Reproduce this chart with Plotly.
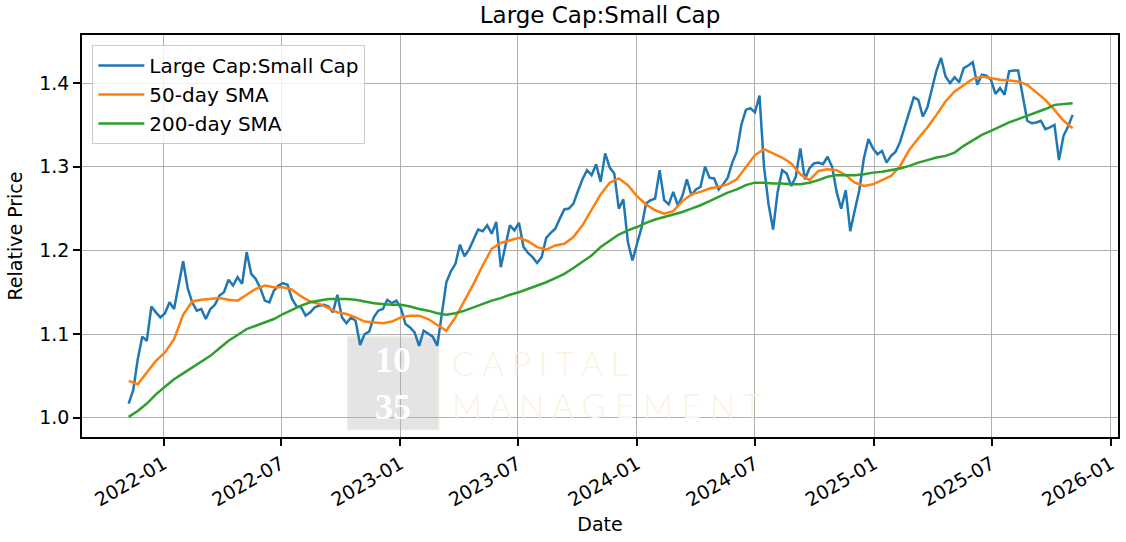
import pandas as pd
import plotly.graph_objects as go

# weekly closes of the ratio
ratio_start = "2021-11-08"
ratio = [
    1.017, 1.033, 1.070, 1.097, 1.092, 1.133, 1.126, 1.120, 1.125, 1.138,
    1.130, 1.158, 1.187, 1.155, 1.138, 1.128, 1.130, 1.118, 1.130, 1.135,
    1.146, 1.150, 1.165, 1.158, 1.168, 1.160, 1.198, 1.172, 1.166, 1.155,
    1.140, 1.138, 1.152, 1.158, 1.161, 1.159, 1.142, 1.133, 1.132, 1.122,
    1.126, 1.132, 1.134, 1.135, 1.133, 1.126, 1.147, 1.120, 1.113, 1.120,
    1.116, 1.087, 1.100, 1.103, 1.120, 1.128, 1.130, 1.141, 1.137, 1.140,
    1.131, 1.112, 1.108, 1.102, 1.086, 1.104, 1.100, 1.097, 1.086, 1.125,
    1.162, 1.175, 1.184, 1.207, 1.193, 1.201, 1.212, 1.225, 1.223, 1.230,
    1.220, 1.234, 1.180, 1.207, 1.230, 1.224, 1.233, 1.204, 1.197, 1.192,
    1.185, 1.192, 1.215, 1.221, 1.226, 1.238, 1.249, 1.250, 1.256, 1.271,
    1.285, 1.296, 1.290, 1.303, 1.282, 1.316, 1.299, 1.292, 1.250, 1.261,
    1.210, 1.188, 1.208, 1.227, 1.256, 1.260, 1.262, 1.296, 1.260, 1.255,
    1.270, 1.254, 1.265, 1.285, 1.266, 1.273, 1.276, 1.300, 1.287, 1.286,
    1.273, 1.279, 1.287, 1.305, 1.318, 1.350, 1.368, 1.370, 1.365, 1.385,
    1.300, 1.255, 1.225, 1.270, 1.296, 1.292, 1.277, 1.288, 1.322, 1.285,
    1.298, 1.304, 1.305, 1.303, 1.312, 1.300, 1.270, 1.250, 1.272, 1.223,
    1.248, 1.272, 1.310, 1.333, 1.322, 1.315, 1.319, 1.305, 1.313, 1.318,
    1.330, 1.348, 1.368, 1.383, 1.380, 1.360, 1.371, 1.395, 1.415, 1.430,
    1.408, 1.400, 1.407, 1.401, 1.418, 1.421, 1.425, 1.398, 1.410, 1.409,
    1.404, 1.387, 1.394, 1.386, 1.414, 1.415, 1.415, 1.385, 1.355, 1.352,
    1.353, 1.355, 1.345, 1.347, 1.350, 1.308, 1.337, 1.348, 1.362,
]

# moving averages, every two weeks
sma_start = "2021-11-08"
sma50 = [
    1.044, 1.040, 1.054, 1.068, 1.078, 1.094, 1.123, 1.139, 1.141, 1.142,
    1.143, 1.141, 1.140, 1.147, 1.154, 1.158, 1.156, 1.156, 1.153, 1.145,
    1.139, 1.136, 1.131, 1.126, 1.124, 1.120, 1.115, 1.114, 1.113, 1.115,
    1.120, 1.122, 1.122, 1.118, 1.111, 1.104, 1.120, 1.140, 1.160, 1.182,
    1.202, 1.209, 1.212, 1.215, 1.211, 1.204, 1.201, 1.206, 1.208, 1.216,
    1.230, 1.248, 1.267, 1.281, 1.286, 1.278, 1.265, 1.255, 1.248, 1.244,
    1.247, 1.259, 1.267, 1.270, 1.274, 1.276, 1.279, 1.285, 1.299, 1.314,
    1.321, 1.316, 1.311, 1.304, 1.291, 1.284, 1.295, 1.297, 1.296, 1.290,
    1.281, 1.277, 1.279, 1.284, 1.289, 1.301, 1.320, 1.334, 1.347, 1.362,
    1.378, 1.390, 1.398, 1.405, 1.408, 1.406, 1.404, 1.403, 1.402, 1.398,
    1.389, 1.380, 1.368, 1.355, 1.346,
]
sma200 = [
    1.001, 1.008, 1.017, 1.028, 1.037, 1.046, 1.053, 1.060, 1.067, 1.074,
    1.083, 1.092, 1.099, 1.106, 1.110, 1.114, 1.118, 1.124, 1.129, 1.134,
    1.138, 1.140, 1.142, 1.142, 1.142, 1.141, 1.139, 1.137, 1.136, 1.135,
    1.135, 1.133, 1.130, 1.128, 1.125, 1.123, 1.125, 1.128, 1.132, 1.136,
    1.140, 1.143, 1.147, 1.150, 1.154, 1.158, 1.162, 1.167, 1.172, 1.179,
    1.186, 1.194, 1.204, 1.212, 1.219, 1.224, 1.228, 1.233, 1.237, 1.240,
    1.243, 1.246, 1.250, 1.254, 1.259, 1.264, 1.269, 1.273, 1.278, 1.281,
    1.281, 1.280, 1.280, 1.279, 1.279, 1.281, 1.284, 1.288, 1.290, 1.290,
    1.290, 1.291, 1.293, 1.294, 1.296, 1.298, 1.301, 1.305, 1.308, 1.311,
    1.313, 1.317, 1.325, 1.332, 1.338, 1.343, 1.348, 1.353, 1.357, 1.361,
    1.365, 1.369, 1.374, 1.375, 1.376,
]

ratio_dates = pd.date_range(ratio_start, periods=len(ratio), freq="7D")
sma_dates = pd.date_range(sma_start, periods=len(sma50), freq="14D")

font = "DejaVu Sans"
fig = go.Figure()
fig.add_trace(go.Scatter(x=ratio_dates, y=ratio, mode="lines", name="Large Cap:Small Cap",
                         line=dict(color="#1f77b4", width=2.5), legendgroup="a"))
fig.add_trace(go.Scatter(x=sma_dates, y=sma50, mode="lines", name="50-day SMA",
                         line=dict(color="#ff7f0e", width=2.5), legendgroup="b"))
fig.add_trace(go.Scatter(x=sma_dates, y=sma200, mode="lines", name="200-day SMA",
                         line=dict(color="#2ca02c", width=2.5), legendgroup="c"))

# 10|35 watermark
fig.add_shape(type="rect", xref="paper", yref="paper", x0=0.2564, x1=0.3442, y0=0.0184, y1=0.2489,
              fillcolor="#e4e4e4", line=dict(color="#f3ecdc", width=1.5), layer="below")
fig.add_annotation(text="10<br>35", xref="paper", yref="paper", x=0.3005, y=0.1324, showarrow=False,
                   font=dict(family="Liberation Serif", size=36, weight="bold", color="white"),
                   xanchor="center", yanchor="middle")
for txt, yy in [("C A P I T A L", 0.1835), ("M A N A G E M E N T", 0.0802)]:
    fig.add_annotation(text=txt, xref="paper", yref="paper", x=0.3555, y=yy, showarrow=False,
                       font=dict(family="Lato", size=33, weight=300, color="#fbf3df"),
                       xanchor="left", yanchor="middle")

axis = dict(showgrid=True, gridcolor="#b0b0b0", gridwidth=1.3, zeroline=False,
            showline=True, linecolor="black", linewidth=1.5, mirror=True,
            ticks="outside", ticklen=7, tickwidth=1.5, tickcolor="black", automargin=False,
            tickfont=dict(family=font, size=19, color="black"))

fig.update_layout(
    width=1126, height=542,
    margin=dict(l=82, r=8, t=35, b=105),
    paper_bgcolor="white", plot_bgcolor="white",
    font=dict(family=font, size=19, color="black"),
    title=dict(text="Large Cap:Small Cap", x=0.5, xref="paper", y=0.9723, yref="container",
               yanchor="middle", font=dict(family=font, size=23, color="black")),
    showlegend=True,
    legend=dict(x=0.01, y=0.975, xanchor="left", yanchor="top", itemwidth=46,
                bgcolor="rgba(255,255,255,0.8)", bordercolor="#cccccc", borderwidth=1,
                font=dict(family=font, size=20, color="black"), tracegroupgap=0),
    xaxis=dict(axis, type="date", range=["2021-08-28", "2026-01-12"],
               tick0="2022-01-01", dtick="M6", tickformat="%Y-%m", tickangle=-30,
               title=dict(text="Date", standoff=8, font=dict(family=font, size=19))),
    yaxis=dict(axis, range=[0.977, 1.4575], tick0=1.0, dtick=0.1, tickformat=".1f",
               title=dict(text="Relative Price", standoff=12, font=dict(family=font, size=19))),
)

# drop the page's default body margin so the figure fills the window
fig.write_html("out.html", config={"displayModeBar": False},
               post_script="document.body.style.margin = '0';")
